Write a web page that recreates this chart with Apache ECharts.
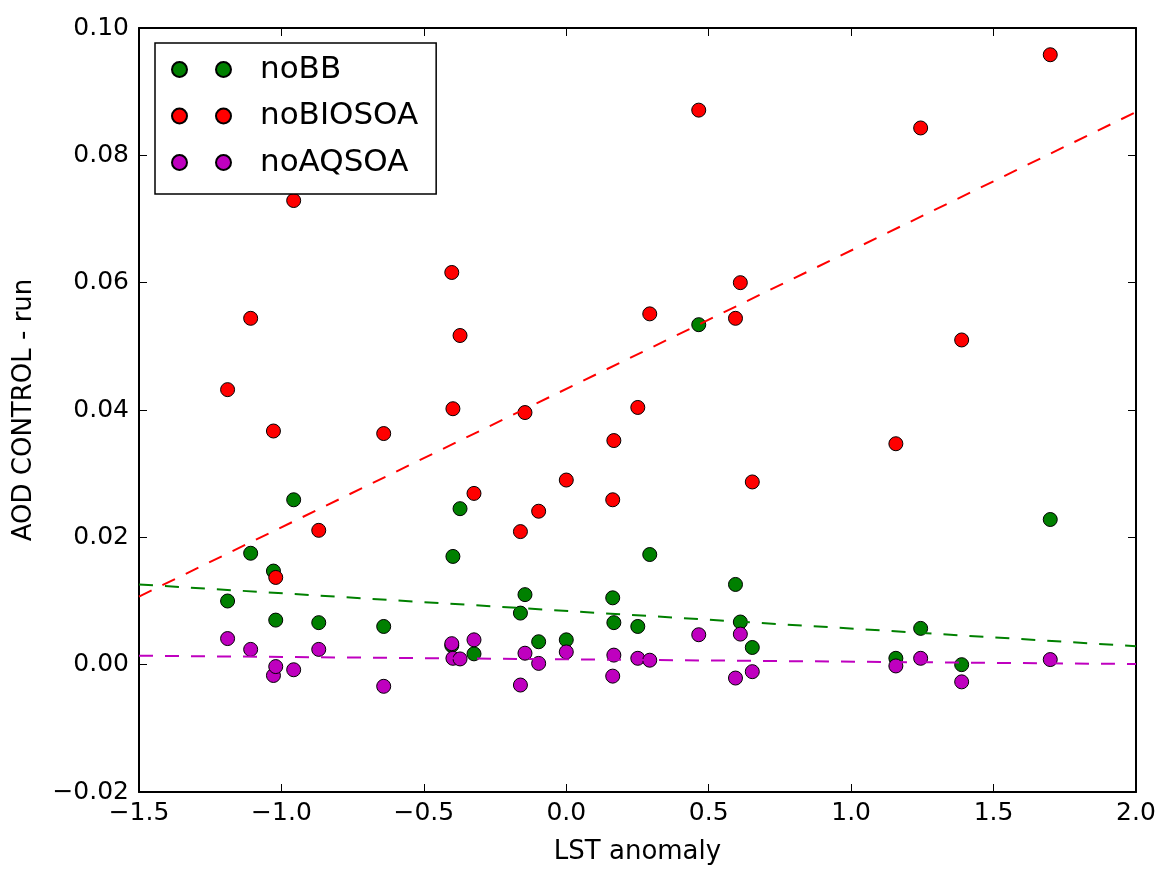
<!DOCTYPE html>
<html>
<head>
<meta charset="utf-8">
<script src="https://cdn.jsdelivr.net/npm/echarts@6/dist/echarts.min.js"></script>
<style>
  html, body { margin: 0; padding: 0; background: #fff; }
  #main { width: 1160px; height: 870px; }
</style>
</head>
<body>
<div id="main"></div>
<script>
// LST anomaly (x) shared by the three runs
const lstAnomaly = [-1.189, -1.108, -1.028, -1.020, -0.957, -0.869, -0.641, -0.402, -0.398, -0.373, -0.324,
  -0.161, -0.145, -0.097, 0.000, 0.163, 0.167, 0.251, 0.293, 0.465, 0.594, 0.611, 0.653, 1.157, 1.244, 1.388, 1.699];

// AOD CONTROL - run
const noBB = [0.0100, 0.0175, 0.0147, 0.0070, 0.0259, 0.0066, 0.0060, 0.0030, 0.0170, 0.0245, 0.0017,
  0.0081, 0.0110, 0.0036, 0.0039, 0.0105, 0.0066, 0.0060, 0.0173, 0.0534, 0.0126, 0.0067, 0.0027, 0.0010, 0.0057, 0.0000, 0.0228];
const noBIOSOA = [0.0432, 0.0544, 0.0367, 0.0137, 0.0729, 0.0211, 0.0363, 0.0616, 0.0402, 0.0517, 0.0269,
  0.0209, 0.0396, 0.0241, 0.0290, 0.0259, 0.0352, 0.0404, 0.0551, 0.0871, 0.0544, 0.0600, 0.0287, 0.0347, 0.0843, 0.0510, 0.0958];
const noAQSOA = [0.0041, 0.0024, -0.0017, -0.0003, -0.0008, 0.0024, -0.0034, 0.0033, 0.0010, 0.0009, 0.0039,
  -0.0032, 0.0018, 0.0002, 0.0020, -0.0018, 0.0015, 0.0010, 0.0007, 0.0047, -0.0021, 0.0048, -0.0011, -0.0002, 0.0010, -0.0027, 0.0008];

// fitted trend lines, read at the plot edges
const fitX = [-1.5, 2.0];
const noBBFit = [0.0126, 0.0029];
const noBIOSOAFit = [0.0107, 0.0868];
const noAQSOAFit = [0.0014, 0.0001];

const seriesNames = ['noBB', 'noBIOSOA', 'noAQSOA'];
const colors = ['#008000', '#ff0000', '#bf00bf'];

const font = 'DejaVu Sans';
const minus = (s) => s.replace('-', '\u2212');
const pairs = (xs, ys) => xs.map((x, i) => [x, ys[i]]);

const scatter = (name, ys, color) => ({
  name: name,
  type: 'scatter',
  data: pairs(lstAnomaly, ys),
  symbolSize: 14,
  itemStyle: { color: color, borderColor: '#000', borderWidth: 1, opacity: 1 },
  z: 2
});

const fitLine = (ys, color) => ({
  type: 'line',
  data: pairs(fitX, ys),
  symbol: 'none',
  lineStyle: { color: color, width: 2, type: [14, 12] },
  z: 3,
  silent: true
});

const xBase = {
  type: 'value', min: -1.5, max: 2.0, interval: 0.5,
  axisLine: { onZero: false, lineStyle: { color: '#000', width: 2 } },
  axisTick: { inside: true, length: 8, lineStyle: { color: '#000', width: 1 } },
  splitLine: { show: false }
};
const yBase = {
  type: 'value', min: -0.02, max: 0.10, interval: 0.02,
  axisLine: { onZero: false, lineStyle: { color: '#000', width: 2 } },
  axisTick: { inside: true, length: 8, lineStyle: { color: '#000', width: 1 } },
  splitLine: { show: false }
};

const option = {
  animation: false,
  backgroundColor: '#fff',
  grid: { left: 139, right: 24, top: 28, bottom: 72 },
  legend: {
    data: seriesNames,
    orient: 'vertical',
    left: 155, top: 43,
    padding: [11, 18, 16, 16],
    itemGap: 15.5,
    itemWidth: 59, itemHeight: 15,
    icon: 'path://M0,7.5A7.5,7.5,0,1,0,15,7.5A7.5,7.5,0,1,0,0,7.5ZM44,7.5A7.5,7.5,0,1,0,59,7.5A7.5,7.5,0,1,0,44,7.5Z',
    textStyle: { fontFamily: font, fontSize: 31, lineHeight: 31, color: '#000', padding: [0, 0, 0, 24] },
    borderColor: '#000', borderWidth: 1.5, borderRadius: 0,
    backgroundColor: '#fff',
    selectedMode: false
  },
  xAxis: [
    Object.assign({}, xBase, {
      position: 'bottom',
      name: 'LST anomaly', nameLocation: 'middle', nameGap: 47,
      nameTextStyle: { fontFamily: font, fontSize: 26, color: '#000' },
      axisLabel: { fontFamily: font, fontSize: 25, color: '#000', margin: 9,
        formatter: (v) => minus(v.toFixed(1)) }
    }),
    Object.assign({}, xBase, { position: 'top', axisLabel: { show: false } })
  ],
  yAxis: [
    Object.assign({}, yBase, {
      position: 'left',
      name: 'AOD CONTROL - run', nameLocation: 'middle', nameGap: 102, nameRotate: 90,
      nameTextStyle: { fontFamily: font, fontSize: 26, color: '#000' },
      axisLabel: { fontFamily: font, fontSize: 25, color: '#000', margin: 10,
        formatter: (v) => minus(v.toFixed(2)) }
    }),
    Object.assign({}, yBase, { position: 'right', axisLabel: { show: false } })
  ],
  series: [
    scatter(seriesNames[0], noBB, colors[0]),
    scatter(seriesNames[1], noBIOSOA, colors[1]),
    scatter(seriesNames[2], noAQSOA, colors[2]),
    fitLine(noBBFit, colors[0]),
    fitLine(noBIOSOAFit, colors[1]),
    fitLine(noAQSOAFit, colors[2])
  ]
};

const chart = echarts.init(document.getElementById('main'));
chart.setOption(option);
</script>
</body>
</html>
